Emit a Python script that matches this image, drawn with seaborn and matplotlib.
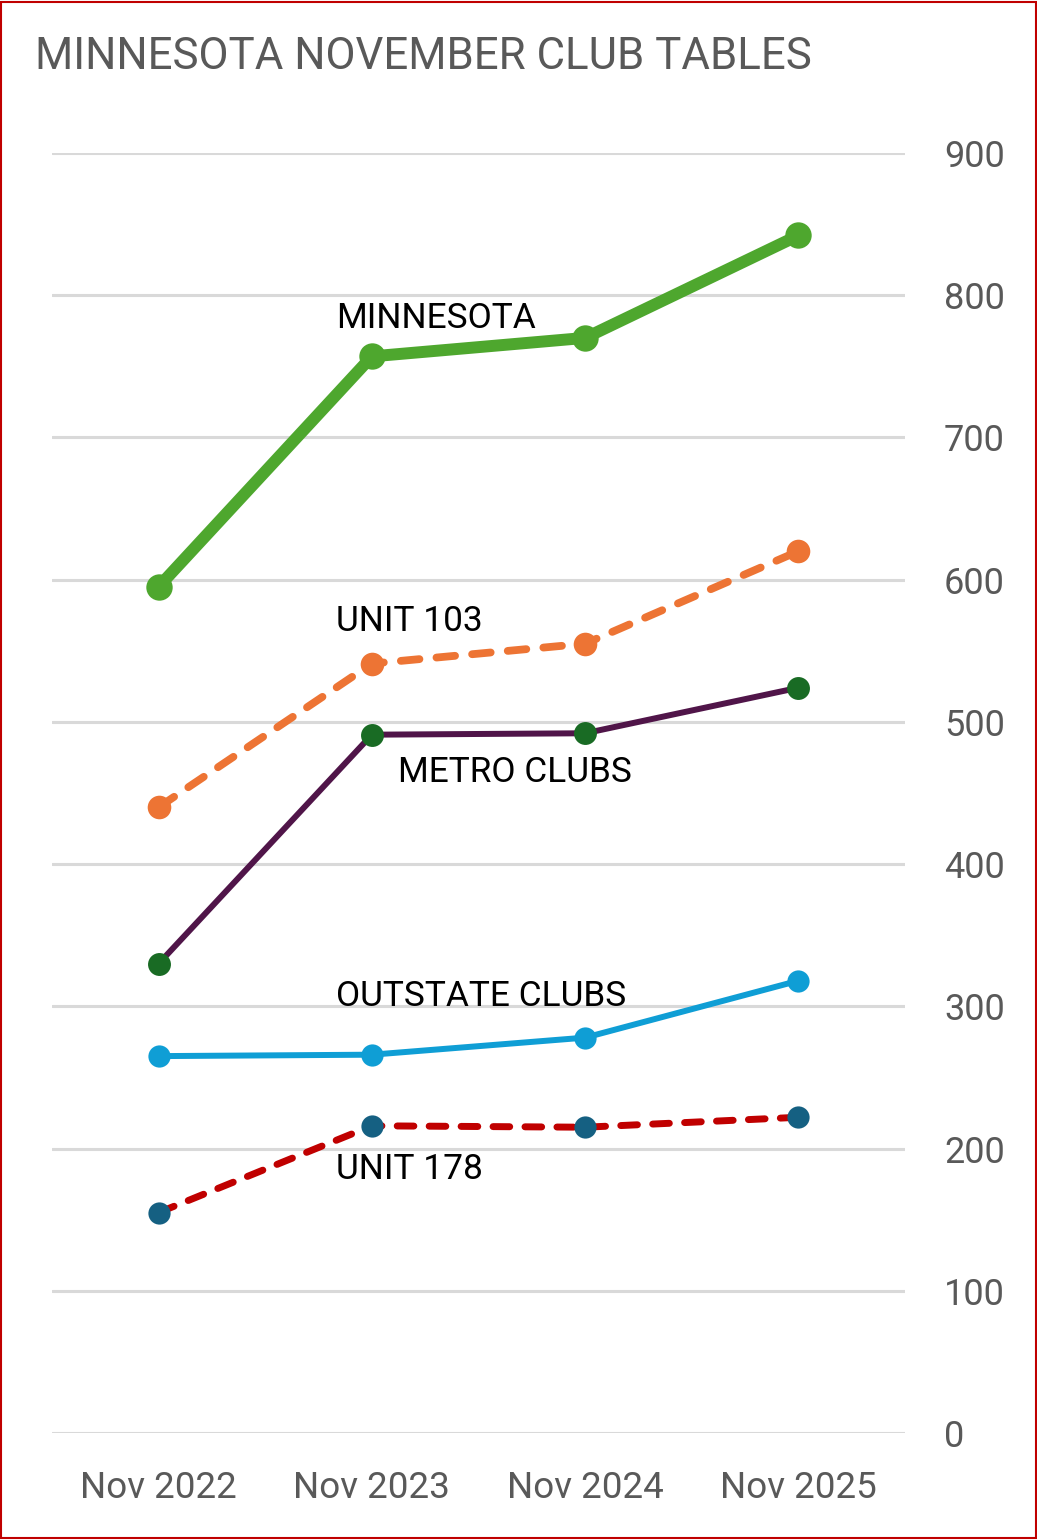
import matplotlib
matplotlib.use("Agg")
import matplotlib.pyplot as plt
import seaborn as sns
import pandas as pd
from matplotlib.patches import Rectangle

# ---- data ----
periods = ["Nov 2022", "Nov 2023", "Nov 2024", "Nov 2025"]
minnesota = [595, 757, 770, 842]
unit_103 = [440, 541, 555, 620]
metro_clubs = [330, 491, 492, 524]
outstate_clubs = [265, 266, 278, 318]
unit_178 = [155, 216, 215, 222]
y_ticks = [0, 100, 200, 300, 400, 500, 600, 700, 800, 900]
title = "MINNESOTA NOVEMBER CLUB TABLES"

sns.set_theme(style="white")
plt.rcParams["font.family"] = ["Roboto", "DejaVu Sans"]

W, H = 1037, 1540
fig = plt.figure(figsize=(W / 100, H / 100), dpi=100)
fig.patch.set_facecolor("white")
ax = fig.add_axes([52 / W, 1 - 1433 / H, (905 - 52) / W, (1433 - 153) / H])

series = [
    # name, values, line color, marker color, lw(pt), ms(pt), dashed, label offset px (dx, dy)
    ("MINNESOTA", minnesota, "#4EA72E", "#4EA72E", 8.6, 19.0, False, (-36, 28)),
    ("UNIT 103", unit_103, "#ED7434", "#ED7434", 5.6, 17.0, True, (-36, 33)),
    ("METRO CLUBS", metro_clubs, "#501549", "#196B24", 4.3, 16.5, False, (26, -47)),
    ("OUTSTATE CLUBS", outstate_clubs, "#0F9ED5", "#0F9ED5", 4.3, 16.0, False, (-36, 49)),
    ("UNIT 178", unit_178, "#C00000", "#156082", 5.0, 16.0, True, (-36, -53)),
]

for name, vals, lc, mc, lw, ms, dashed, off in series:
    df = pd.DataFrame({"period": periods, "value": vals})
    kw = dict(dashes=(2.4, 2.2), dash_capstyle="round") if dashed else dict(solid_capstyle="round")
    sns.lineplot(data=df, x="period", y="value", ax=ax, color=lc, linewidth=lw,
                 marker="o", markersize=ms, markerfacecolor=mc, markeredgecolor=mc,
                 markeredgewidth=0, sort=False, zorder=3, **kw)
    ax.annotate(name, xy=(1, vals[1]), xytext=off, textcoords="offset pixels",
                ha="left", va="baseline", fontsize=25.4, color="black", zorder=5)

ax.set_xlim(-0.5, 3.5)
ax.set_ylim(0, 900)
ax.set_yticks(y_ticks)
ax.yaxis.tick_right()
ax.grid(axis="y", color="#D9D9D9", linewidth=2.2, zorder=0)
ax.grid(axis="x", visible=False)
ax.set_axisbelow(True)
for s in ax.spines.values():
    s.set_visible(False)
ax.set_xlabel("")
ax.set_ylabel("")
ax.tick_params(axis="y", length=0, pad=28, labelsize=26, labelcolor="#595959")
ax.tick_params(axis="x", length=0, pad=27, labelsize=26.5, labelcolor="#595959")
for t in ax.get_yticklabels():
    t.set_horizontalalignment("left")

fig.text(35 / W, 1 - 69 / H, title, ha="left", va="baseline", fontsize=31.5, color="#595959")

fig.patches.append(Rectangle((0.001, 0.001), 0.998, 0.998, transform=fig.transFigure,
                             fill=False, edgecolor="#C00000", linewidth=1.5))

fig.savefig("out.png", dpi=100, facecolor="white")
